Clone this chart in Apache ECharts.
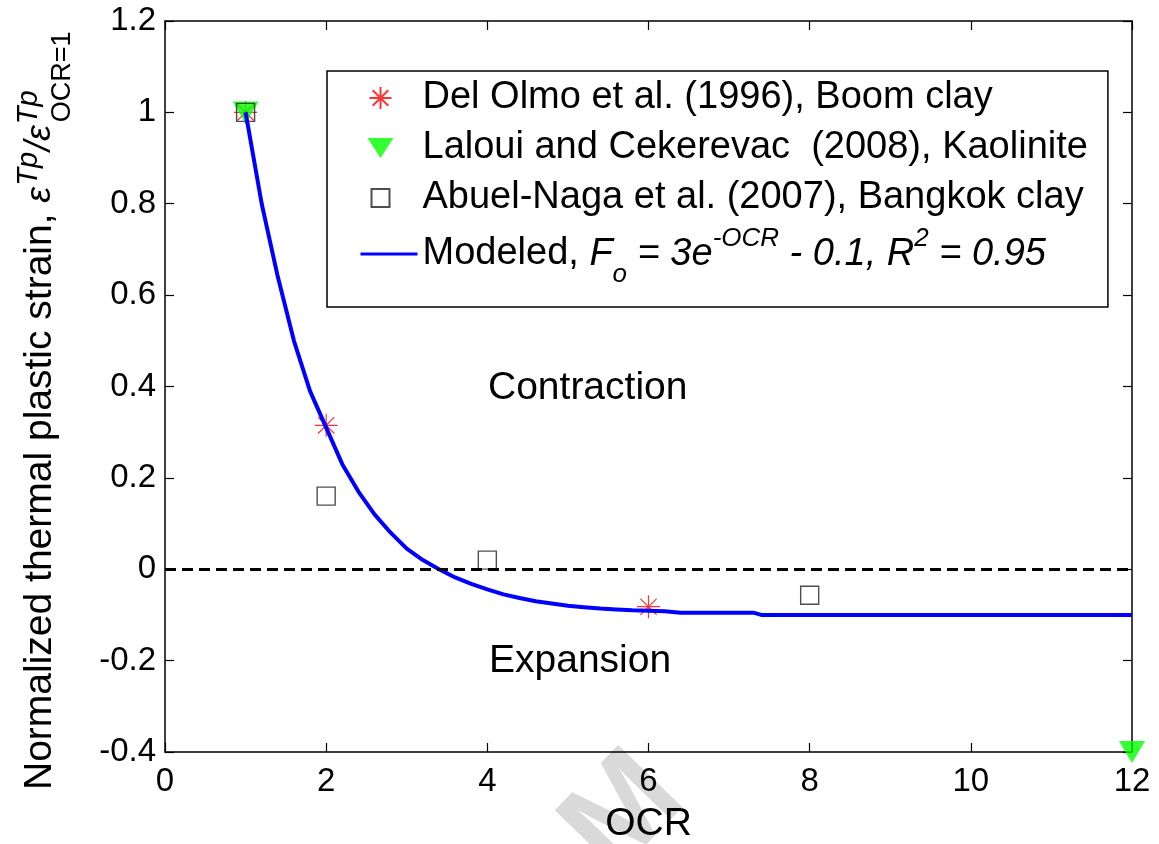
<!DOCTYPE html>
<html>
<head>
<meta charset="utf-8">
<script src="https://cdn.jsdelivr.net/npm/echarts@6/dist/echarts.min.js"></script>
<style>
  html, body { margin: 0; padding: 0; background: #fff; }
  #chart { width: 1159px; height: 844px; }
</style>
</head>
<body>
<div id="chart"></div>
<script>
// Axis ranges and tick labels
const xMin = 0, xMax = 12, xStep = 2;
const yMin = -0.4, yMax = 1.2, yStep = 0.2;
const xTickLabels = ['0', '2', '4', '6', '8', '10', '12'];
const yTickLabels = ['-0.4', '-0.2', '0', '0.2', '0.4', '0.6', '0.8', '1', '1.2'];

// Measured points
const delOlmoOcr = [1, 2, 6];
const delOlmoStrain = [1.0, 0.315, -0.082];
const lalouiOcr = [1, 12];
const lalouiStrain = [1.0, -0.4];
const abuelOcr = [1, 2, 4, 8];
const abuelStrain = [1.0, 0.16, 0.02, -0.057];

// Fitted curve
const modelOcr = [1, 1.2, 1.4, 1.6, 1.8, 2, 2.2, 2.4, 2.6, 2.8, 3, 3.2, 3.4, 3.6, 3.8,
  4, 4.2, 4.4, 4.6, 4.8, 5, 5.2, 5.4, 5.6, 5.8, 6, 6.2, 6.4, 7.3, 7.4, 12];
const modelStrain = [1.0, 0.80, 0.64, 0.50, 0.39, 0.31, 0.23, 0.17, 0.12, 0.08, 0.045, 0.02, 0.0, -0.018, -0.032,
  -0.044, -0.055, -0.063, -0.070, -0.075, -0.080, -0.083, -0.086, -0.088, -0.090, -0.091, -0.092, -0.095, -0.095, -0.1, -0.1];

const names = [
  'Del Olmo et al. (1996), Boom clay',
  'Laloui and Cekerevac  (2008), Kaolinite',
  'Abuel-Naga et al. (2007), Bangkok clay',
  'Modeled'
];

const FONT = '"Liberation Sans", Arial, sans-serif';
const zip = (xs, ys) => xs.map((x, i) => [x, ys[i]]);

// Legend icons: each path spans the full 57x22 icon box (corner moves),
// so the marker keeps its own size and sits left of centre.
const ICON_BOX = 'M0,0 M57,22 ';
const legendIcons = [
  'path://' + ICON_BOX + 'M20,0 L20,22 M9,11 L31,11 M12.2,3.2 L27.8,18.8 M12.2,18.8 L27.8,3.2',
  'path://' + ICON_BOX + 'M7,1 L33,1 L20,21 Z',
  'path://' + ICON_BOX + 'M11,2 L29,2 L29,20 L11,20 Z',
  'path://' + ICON_BOX + 'M0,9.5 L57,9.5 L57,12.5 L0,12.5 Z'
];

// y-axis title: laid out piece by piece (stacked super/subscripts)
const ctx = document.createElement('canvas').getContext('2d');
function w(text, font) { ctx.font = font; return ctx.measureText(text).width; }
const fMain = '39px ' + FONT;
const fEps = 'italic 36px ' + FONT;
const fSup = 'italic 29px ' + FONT;
const fSub = '27px ' + FONT;
const mainText = 'Normalized thermal plastic strain, ';
const parts = [];
let pos = 0;
parts.push({ text: mainText, font: fMain, lx: pos, ly: 0 });
pos += w(mainText, fMain);
parts.push({ text: 'ε', font: fEps, lx: pos, ly: 0 });
pos += w('ε', fEps) + 1;
parts.push({ text: 'Tp', font: fSup, lx: pos, ly: -11 });
pos += w('Tp', fSup) + 1;
parts.push({ text: '/', font: fEps, lx: pos, ly: 0 });
pos += w('/', fEps);
parts.push({ text: 'ε', font: fEps, lx: pos, ly: 0 });
pos += w('ε', fEps) + 1;
parts.push({ text: 'Tp', font: fSup, lx: pos, ly: -11 });
parts.push({ text: 'OCR=1', font: fSub, lx: pos + 2, ly: 23 });

const yTitle = {
  type: 'group',
  x: 40, y: 790,
  rotation: Math.PI / 2,
  children: parts.map(p => ({
    type: 'text',
    x: p.lx, y: p.ly,
    style: {
      text: p.text, font: p.font, fill: '#000',
      align: 'left', verticalAlign: 'middle',
      textAlign: 'left', textVerticalAlign: 'middle'
    }
  }))
};

function txt(text, x, y, size) {
  return {
    type: 'text', x: x, y: y,
    style: {
      text: text, font: size + 'px ' + FONT, fill: '#000',
      align: 'left', verticalAlign: 'middle',
      textAlign: 'left', textVerticalAlign: 'middle'
    }
  };
}

const axisLineStyle = { color: '#000', width: 1.5 };
const tickStyle = { color: '#000', width: 1.2 };

const chart = echarts.init(document.getElementById('chart'), null, { renderer: 'canvas' });

chart.setOption({
  backgroundColor: '#fff',
  animation: false,
  grid: { left: 165, right: 27, top: 21, bottom: 92, containLabel: false, outerBoundsMode: 'none' },
  xAxis: [{
    type: 'value', min: xMin, max: xMax, interval: xStep, position: 'bottom',
    axisLine: { show: true, onZero: false, lineStyle: axisLineStyle },
    axisTick: { show: true, inside: true, length: 9, lineStyle: tickStyle },
    axisLabel: {
      color: '#000', fontSize: 33, fontFamily: FONT, margin: 13,
      formatter: v => xTickLabels[Math.round((v - xMin) / xStep)]
    },
    splitLine: { show: false },
    name: 'OCR', nameLocation: 'middle', nameGap: 53,
    nameTextStyle: { color: '#000', fontSize: 39, fontFamily: FONT }
  }, {
    type: 'value', min: xMin, max: xMax, interval: xStep, position: 'top',
    axisLine: { show: true, onZero: false, lineStyle: axisLineStyle },
    axisTick: { show: true, inside: true, length: 9, lineStyle: tickStyle },
    axisLabel: { show: false },
    splitLine: { show: false }
  }],
  yAxis: [{
    type: 'value', min: yMin, max: yMax, interval: yStep, position: 'left',
    axisLine: { show: true, onZero: false, lineStyle: axisLineStyle },
    axisTick: { show: true, inside: true, length: 9, lineStyle: tickStyle },
    axisLabel: {
      color: '#000', fontSize: 33, fontFamily: FONT, margin: 9,
      formatter: v => yTickLabels[Math.round((v - yMin) / yStep)]
    },
    splitLine: { show: false }
  }, {
    type: 'value', min: yMin, max: yMax, interval: yStep, position: 'right',
    axisLine: { show: true, onZero: false, lineStyle: axisLineStyle },
    axisTick: { show: true, inside: true, length: 9, lineStyle: tickStyle },
    axisLabel: { show: false },
    splitLine: { show: false }
  }],
  legend: {
    orient: 'vertical',
    left: 327, top: 71,
    padding: [5, 20, 19, 31],
    itemGap: 6,
    itemWidth: 57, itemHeight: 22,
    backgroundColor: '#fff',
    borderColor: '#000', borderWidth: 1.5,
    selectedMode: false,
    data: names.map((n, i) => ({ name: n, icon: legendIcons[i] })),
    textStyle: {
      color: '#000', fontSize: 38, fontFamily: FONT, lineHeight: 44,
      rich: {
        n: { fontSize: 38, fontFamily: FONT, lineHeight: 44, color: '#000' },
        m: { fontSize: 38, fontFamily: FONT, lineHeight: 48, color: '#000' },
        i: { fontSize: 38, fontFamily: FONT, fontStyle: 'italic', lineHeight: 48, color: '#000' },
        sup: { fontSize: 26, fontFamily: FONT, fontStyle: 'italic', height: 18, lineHeight: 18, verticalAlign: 'top', color: '#000' },
        sub: { fontSize: 26, fontFamily: FONT, fontStyle: 'italic', height: 6, lineHeight: 6, verticalAlign: 'bottom', color: '#000' }
      }
    },
    formatter: function (name) {
      if (name === 'Modeled') {
        return '{m|Modeled, }{i|F}{sub|o}{i| = 3e}{sup|-OCR}{i| - 0.1, R}{sup|2}{i| = 0.95}';
      }
      return '{n|' + name + '}';
    }
  },
  graphic: [
    yTitle,
    txt('Contraction', 488, 388, 39),
    txt('Expansion', 489, 661, 39),
    {
      type: 'text', x: 625, y: 815, rotation: 0.8, z: -10,
      style: {
        text: 'M', font: 'bold 130px ' + FONT, fill: '#d9d9d9',
        align: 'center', verticalAlign: 'middle',
        textAlign: 'center', textVerticalAlign: 'middle'
      }
    }
  ],
  series: [{
    name: names[0],
    type: 'scatter',
    data: zip(delOlmoOcr, delOlmoStrain),
    symbol: 'path://M12,0 L12,24 M0,12 L24,12 M3.5,3.5 L20.5,20.5 M3.5,20.5 L20.5,3.5',
    symbolSize: 23,
    itemStyle: { color: 'none', borderColor: '#ff0000', borderWidth: 1.2 },
    clip: false, silent: true
  }, {
    name: names[1],
    type: 'scatter',
    data: zip(lalouiOcr, lalouiStrain),
    symbol: 'triangle', symbolRotate: 180, symbolSize: [26, 22],
    itemStyle: { color: '#00ff00' },
    clip: false, silent: true
  }, {
    name: names[2],
    type: 'scatter',
    data: zip(abuelOcr, abuelStrain),
    symbol: 'rect', symbolSize: 18,
    itemStyle: { color: 'none', borderColor: '#222', borderWidth: 1.4 },
    clip: false, silent: true
  }, {
    name: names[3],
    type: 'line',
    data: zip(modelOcr, modelStrain),
    showSymbol: false, symbol: 'none',
    lineStyle: { color: '#0000ff', width: 4 },
    itemStyle: { color: '#0000ff' },
    clip: false, silent: true,
    markLine: {
      silent: true, symbol: ['none', 'none'],
      label: { show: false },
      lineStyle: { color: '#000', type: [11, 6], width: 3 },
      data: [{ yAxis: 0 }]
    }
  }]
});
</script>
</body>
</html>
